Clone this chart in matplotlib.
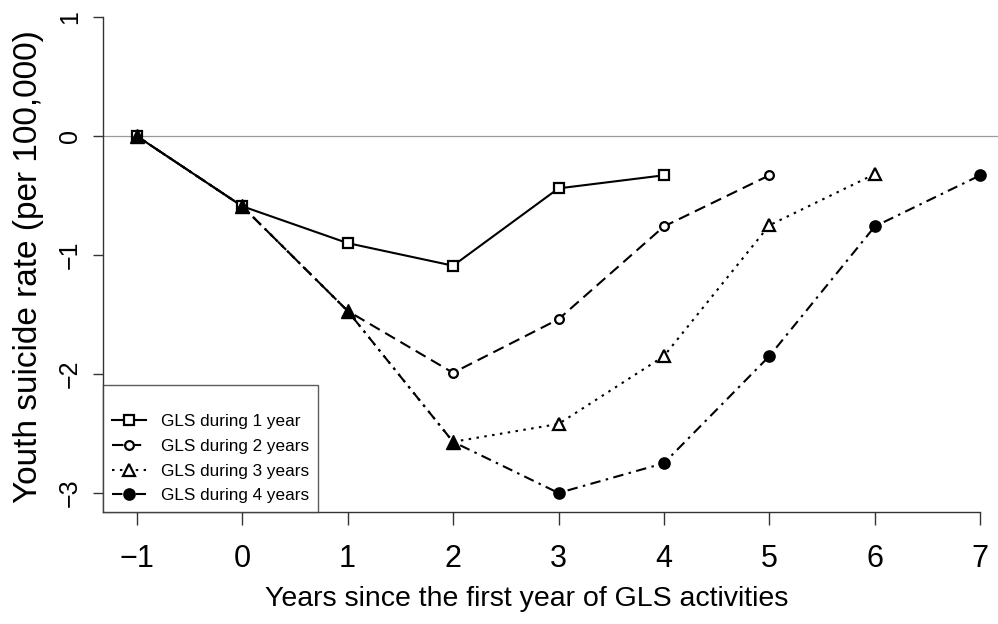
import matplotlib
matplotlib.use("Agg")
import matplotlib.pyplot as plt

plt.rcParams["font.family"] = ["Liberation Sans", "DejaVu Sans"]

# values
years = [-1, 0, 1, 2, 3, 4, 5, 6, 7]
gls1 = [0.0, -0.59, -0.90, -1.09, -0.44, -0.33]
gls2 = [0.0, -0.59, -1.47, -1.99, -1.54, -0.76, -0.33]
gls3 = [0.0, -0.59, -1.47, -2.57, -2.42, -1.85, -0.75, -0.32]
gls4 = [0.0, -0.59, -1.47, -2.57, -3.00, -2.75, -1.85, -0.76, -0.33]
# index where each series leaves the common path (own markers from there)
own_from = [0, 3, 4, 4]
shared_x = [-1, 0, 1, 2]
shared_y = [0.0, -0.59, -1.47, -2.57]
labels = ["GLS during 1 year", "GLS during 2 years",
          "GLS during 3 years", "GLS during 4 years"]
yticks = [-3, -2, -1, 0, 1]


def minus(v):
    return "\u2212" + str(-v) if v < 0 else str(v)


fig = plt.figure(figsize=(9.98, 6.24), dpi=100)
ax = fig.add_axes([103 / 998, 112 / 624, 911 / 998, 514 / 624])
ax.set_xlim(-1.32, 7.32)
ax.set_ylim(-3.16, 1.16)

ax.axhline(0, color="#9a9a9a", lw=0.9, zorder=1)

lw = 1.5
styles = [
    ("-", "s", "white", 7.5),
    ((0, (5.5, 3)), "o", "white", 6.3),
    ((0, (1.2, 2.6)), "^", "white", 8.5),
    ((0, (5, 2.6, 1.2, 2.6)), "o", "black", 7.5),
]
handles = []
for vals, st, k, lab in zip([gls1, gls2, gls3, gls4], styles, own_from, labels):
    ls, mk, fc, ms = st
    xs = years[:len(vals)]
    ax.plot(xs, vals, ls=ls, color="black", lw=lw, zorder=2)
    ax.plot(xs[k:], vals[k:], ls="none", marker=mk, ms=ms,
            mfc=fc, mec="black", mew=1.6, zorder=3)
    h, = ax.plot([], [], ls=ls, color="black", lw=lw, marker=mk, ms=ms,
                 mfc=fc, mec="black", mew=1.6)
    handles.append(h)

# common start of all four paths: filled triangles
ax.plot(shared_x, shared_y, ls="none", marker="^", ms=9.5, mfc="black",
        mec="black", zorder=4)

ax.set_xticks(years)
ax.set_xticklabels([minus(v) for v in years], fontsize=22)
ax.set_yticks(yticks)
ax.set_yticklabels([minus(v) for v in yticks], rotation=90, va="center",
                   fontsize=18)
ax.tick_params(axis="both", length=7, width=1, color="#333333")
ax.tick_params(axis="x", length=9, pad=14)
ax.tick_params(axis="y", pad=8)
ax.spines["top"].set_visible(False)
ax.spines["right"].set_visible(False)
ax.spines["left"].set_bounds(-3.16, 1)
ax.spines["bottom"].set_bounds(-1.32, 7)
for s in ("left", "bottom"):
    ax.spines[s].set_color("#333333")
    ax.spines[s].set_linewidth(1.0)

ax.set_xlabel("Years since the first year of GLS activities", fontsize=20.5,
              va="center")
ax.xaxis.set_label_coords(0.4654, -0.169)
ax.set_ylabel("Youth suicide rate (per 100,000)", fontsize=24, va="center")
ax.yaxis.set_label_coords(-0.082, 0.4767)

leg = ax.legend(handles, labels, loc="lower left",
                bbox_to_anchor=(0.0, 0.0), fontsize=12.3, frameon=True,
                fancybox=False, edgecolor="#333333", handlelength=2.0,
                handletextpad=0.9, borderpad=0.5, labelspacing=0.58,
                borderaxespad=0.0, title=" ", title_fontsize=7)
leg.get_frame().set_linewidth(1.0)

fig.savefig("out.png", dpi=100)
